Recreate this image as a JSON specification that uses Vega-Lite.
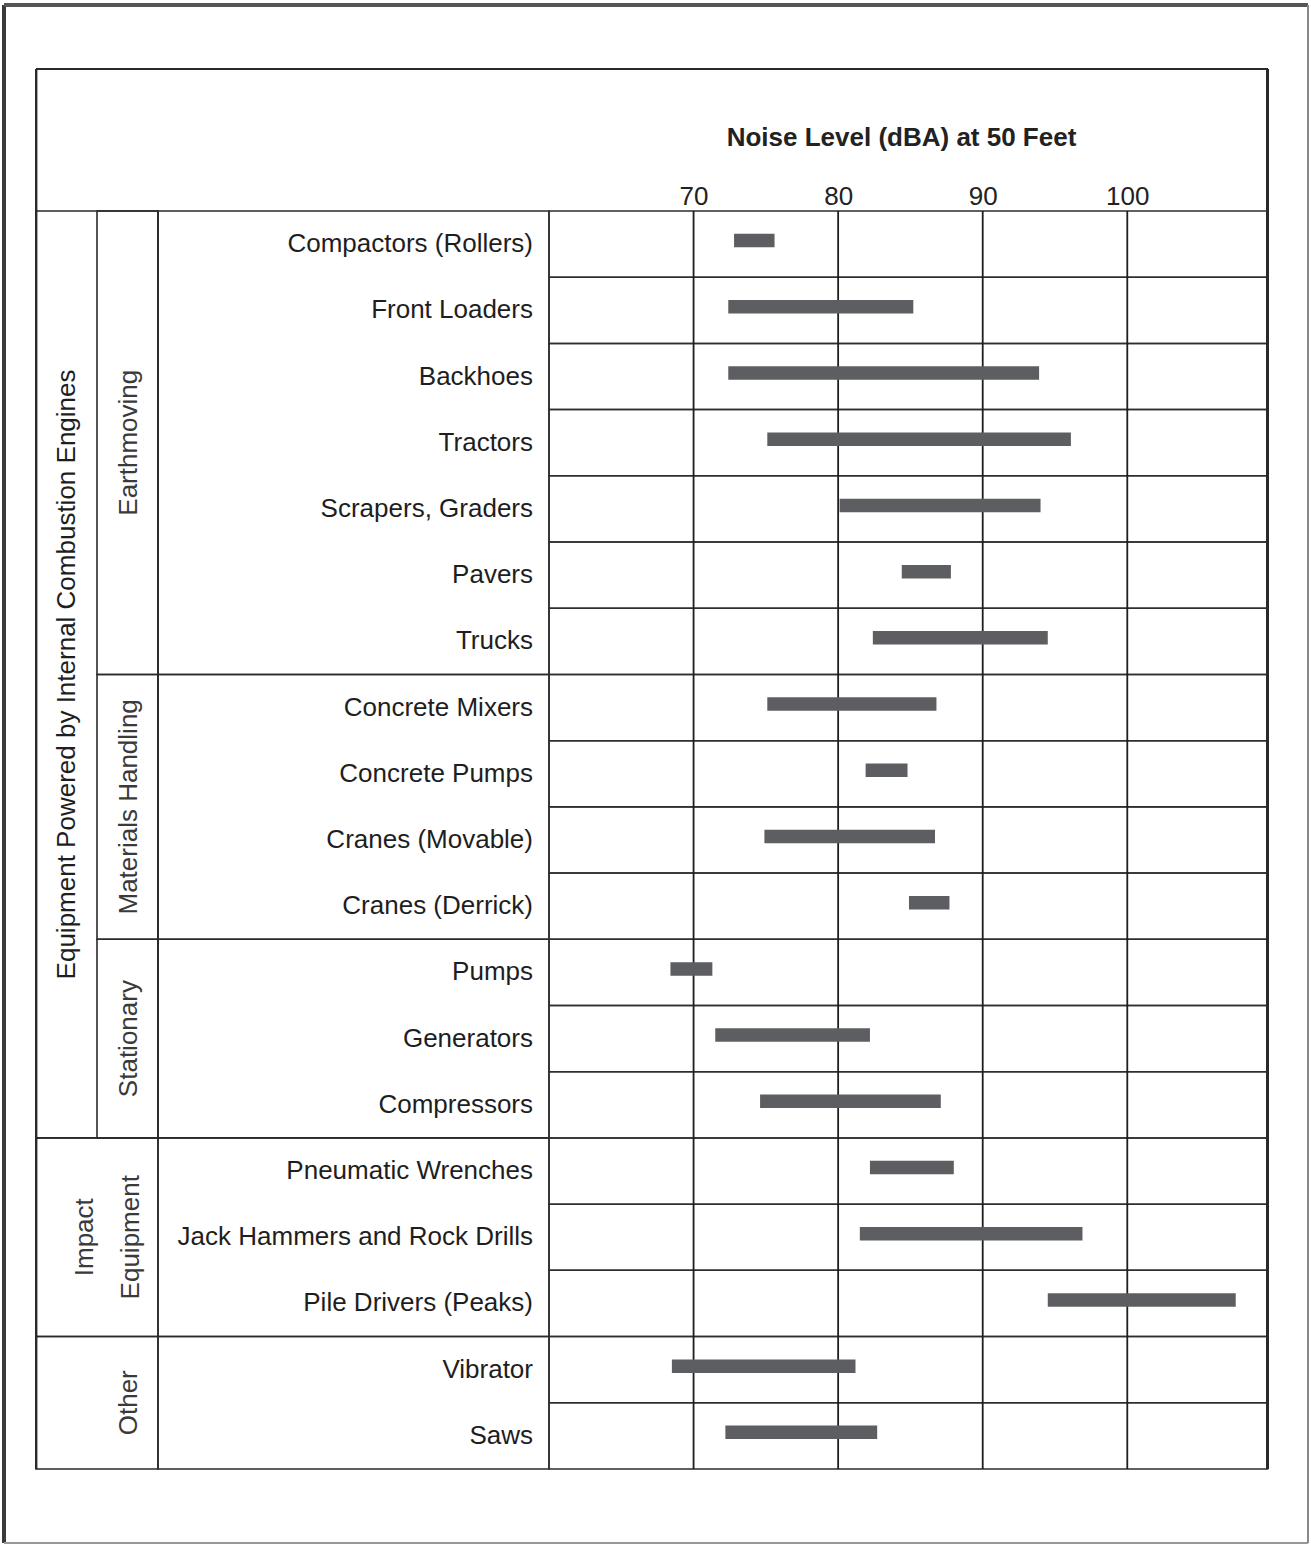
{
  "$schema": "https://vega.github.io/schema/vega-lite/v6.json",
  "padding": {"left": 2, "top": 3, "right": 3, "bottom": 3},
  "background": "white",
  "spacing": 0,
  "bounds": "flush",
  "config": {"view": {"stroke": null}, "font": "Liberation Sans"},
  "datasets": {
    "items": [
      {"row": 0, "name": "Compactors (Rollers)", "group": "Earthmoving", "family": "Equipment Powered by Internal Combustion Engines", "lo": 72.8, "hi": 75.6},
      {"row": 1, "name": "Front Loaders", "group": "Earthmoving", "family": "Equipment Powered by Internal Combustion Engines", "lo": 72.4, "hi": 85.2},
      {"row": 2, "name": "Backhoes", "group": "Earthmoving", "family": "Equipment Powered by Internal Combustion Engines", "lo": 72.4, "hi": 93.9},
      {"row": 3, "name": "Tractors", "group": "Earthmoving", "family": "Equipment Powered by Internal Combustion Engines", "lo": 75.1, "hi": 96.1},
      {"row": 4, "name": "Scrapers, Graders", "group": "Earthmoving", "family": "Equipment Powered by Internal Combustion Engines", "lo": 80.1, "hi": 94.0},
      {"row": 5, "name": "Pavers", "group": "Earthmoving", "family": "Equipment Powered by Internal Combustion Engines", "lo": 84.4, "hi": 87.8},
      {"row": 6, "name": "Trucks", "group": "Earthmoving", "family": "Equipment Powered by Internal Combustion Engines", "lo": 82.4, "hi": 94.5},
      {"row": 7, "name": "Concrete Mixers", "group": "Materials Handling", "family": "Equipment Powered by Internal Combustion Engines", "lo": 75.1, "hi": 86.8},
      {"row": 8, "name": "Concrete Pumps", "group": "Materials Handling", "family": "Equipment Powered by Internal Combustion Engines", "lo": 81.9, "hi": 84.8},
      {"row": 9, "name": "Cranes (Movable)", "group": "Materials Handling", "family": "Equipment Powered by Internal Combustion Engines", "lo": 74.9, "hi": 86.7},
      {"row": 10, "name": "Cranes (Derrick)", "group": "Materials Handling", "family": "Equipment Powered by Internal Combustion Engines", "lo": 84.9, "hi": 87.7},
      {"row": 11, "name": "Pumps", "group": "Stationary", "family": "Equipment Powered by Internal Combustion Engines", "lo": 68.4, "hi": 71.3},
      {"row": 12, "name": "Generators", "group": "Stationary", "family": "Equipment Powered by Internal Combustion Engines", "lo": 71.5, "hi": 82.2},
      {"row": 13, "name": "Compressors", "group": "Stationary", "family": "Equipment Powered by Internal Combustion Engines", "lo": 74.6, "hi": 87.1},
      {"row": 14, "name": "Pneumatic Wrenches", "group": "Impact Equipment", "family": "Impact Equipment", "lo": 82.2, "hi": 88.0},
      {"row": 15, "name": "Jack Hammers and Rock Drills", "group": "Impact Equipment", "family": "Impact Equipment", "lo": 81.5, "hi": 96.9},
      {"row": 16, "name": "Pile Drivers (Peaks)", "group": "Impact Equipment", "family": "Impact Equipment", "lo": 94.5, "hi": 107.5},
      {"row": 17, "name": "Vibrator", "group": "Other", "family": "Other", "lo": 68.5, "hi": 81.2},
      {"row": 18, "name": "Saws", "group": "Other", "family": "Other", "lo": 72.2, "hi": 82.7}
    ],
    "ticks": [{"v": 70}, {"v": 80}, {"v": 90}, {"v": 100}]
  },
  "hconcat": [
    {
      "width": 154,
      "height": 1538,
      "data": {"name": "items"},
      "layer": [
        {
          "transform": [{"aggregate": [{"op": "min", "field": "row", "as": "r0"}, {"op": "max", "field": "row", "as": "r1"}], "groupby": ["family"]}],
          "mark": {"type": "rect", "filled": false, "color": "#2a2a2a", "strokeWidth": 1.6, "yOffset": -33.1, "y2Offset": 33.1},
          "encoding": {
            "x": {"datum": 0, "type": "quantitative", "scale": {"domain": [-0.525, 2], "nice": false, "zero": false}, "axis": null},
            "x2": {"datum": 2},
            "y": {"field": "r0", "type": "quantitative", "scale": {"domain": [-3.611, 19.618], "reverse": true, "nice": false, "zero": false}, "axis": null},
            "y2": {"field": "r1"}
          }
        },
        {
          "transform": [
            {"filter": "datum.family === 'Equipment Powered by Internal Combustion Engines'"},
            {"aggregate": [{"op": "min", "field": "row", "as": "r0"}, {"op": "max", "field": "row", "as": "r1"}], "groupby": ["group"]}
          ],
          "mark": {"type": "rect", "filled": false, "color": "#2a2a2a", "strokeWidth": 1.6, "yOffset": -33.1, "y2Offset": 33.1},
          "encoding": {
            "x": {"datum": 1, "type": "quantitative", "scale": {"domain": [-0.525, 2], "nice": false, "zero": false}, "axis": null},
            "x2": {"datum": 2},
            "y": {"field": "r0", "type": "quantitative", "scale": {"domain": [-3.611, 19.618], "reverse": true, "nice": false, "zero": false}, "axis": null},
            "y2": {"field": "r1"}
          }
        },
        {
          "transform": [
            {"filter": "datum.family === 'Equipment Powered by Internal Combustion Engines'"},
            {"aggregate": [{"op": "mean", "field": "row", "as": "mid"}], "groupby": ["family"]}
          ],
          "mark": {"type": "text", "angle": 270, "align": "center", "baseline": "middle", "fontSize": 26, "color": "#1e1e1e"},
          "encoding": {
            "x": {"datum": 0.5, "type": "quantitative", "scale": {"domain": [-0.525, 2], "nice": false, "zero": false}, "axis": null},
            "y": {"field": "mid", "type": "quantitative", "scale": {"domain": [-3.611, 19.618], "reverse": true, "nice": false, "zero": false}, "axis": null},
            "text": {"field": "family"}
          }
        },
        {
          "transform": [
            {"filter": "datum.family === 'Equipment Powered by Internal Combustion Engines'"},
            {"aggregate": [{"op": "mean", "field": "row", "as": "mid"}], "groupby": ["group"]}
          ],
          "mark": {"type": "text", "angle": 270, "align": "center", "baseline": "middle", "fontSize": 26, "color": "#3a3a3a"},
          "encoding": {
            "x": {"datum": 1.52, "type": "quantitative", "scale": {"domain": [-0.525, 2], "nice": false, "zero": false}, "axis": null},
            "y": {"field": "mid", "type": "quantitative", "scale": {"domain": [-3.611, 19.618], "reverse": true, "nice": false, "zero": false}, "axis": null},
            "text": {"field": "group"}
          }
        },
        {
          "transform": [
            {"filter": "datum.family === 'Impact Equipment'"},
            {"aggregate": [{"op": "mean", "field": "row", "as": "mid"}], "groupby": ["family"]}
          ],
          "mark": {"type": "text", "angle": 270, "align": "center", "baseline": "middle", "fontSize": 26, "lineBreak": " ", "lineHeight": 46, "color": "#3a3a3a"},
          "encoding": {
            "x": {"datum": 0.8, "type": "quantitative", "scale": {"domain": [-0.525, 2], "nice": false, "zero": false}, "axis": null},
            "y": {"field": "mid", "type": "quantitative", "scale": {"domain": [-3.611, 19.618], "reverse": true, "nice": false, "zero": false}, "axis": null},
            "text": {"field": "family"}
          }
        },
        {
          "transform": [
            {"filter": "datum.family === 'Other'"},
            {"aggregate": [{"op": "mean", "field": "row", "as": "mid"}], "groupby": ["family"]}
          ],
          "mark": {"type": "text", "angle": 270, "align": "center", "baseline": "middle", "fontSize": 26, "color": "#3a3a3a"},
          "encoding": {
            "x": {"datum": 1.52, "type": "quantitative", "scale": {"domain": [-0.525, 2], "nice": false, "zero": false}, "axis": null},
            "y": {"field": "mid", "type": "quantitative", "scale": {"domain": [-3.611, 19.618], "reverse": true, "nice": false, "zero": false}, "axis": null},
            "text": {"field": "family"}
          }
        },
        {
          "mark": {"type": "rule", "color": "#2a2a2a", "strokeWidth": 2},
          "encoding": {
            "x": {"datum": 0, "type": "quantitative", "scale": {"domain": [-0.525, 2], "nice": false, "zero": false}, "axis": null},
            "y": {"datum": -2.645, "type": "quantitative", "scale": {"domain": [-3.611, 19.618], "reverse": true, "nice": false, "zero": false}, "axis": null},
            "y2": {"datum": 18.5}
          }
        },
        {
          "mark": {"type": "rule", "color": "#2a2a2a", "strokeWidth": 2},
          "encoding": {
            "x": {"datum": 0, "type": "quantitative", "scale": {"domain": [-0.525, 2], "nice": false, "zero": false}, "axis": null},
            "x2": {"datum": 2},
            "y": {"datum": -2.645, "type": "quantitative", "scale": {"domain": [-3.611, 19.618], "reverse": true, "nice": false, "zero": false}, "axis": null}
          }
        },
        {
          "mark": {"type": "rule", "color": "#3a3a3a", "strokeWidth": 3},
          "encoding": {"x": {"datum": -0.525, "type": "quantitative", "scale": {"domain": [-0.525, 2], "nice": false, "zero": false}, "axis": null}}
        },
        {
          "mark": {"type": "rule", "color": "#555555", "strokeWidth": 2.5},
          "encoding": {"y": {"datum": -3.611, "type": "quantitative", "scale": {"domain": [-3.611, 19.618], "reverse": true, "nice": false, "zero": false}, "axis": null}}
        },
        {
          "mark": {"type": "rule", "color": "#999999", "strokeWidth": 1.5},
          "encoding": {"y": {"datum": 19.618, "type": "quantitative", "scale": {"domain": [-3.611, 19.618], "reverse": true, "nice": false, "zero": false}, "axis": null}}
        }
      ]
    },
    {
      "width": 391,
      "height": 1538,
      "data": {"name": "items"},
      "layer": [
        {
          "transform": [{"aggregate": [{"op": "min", "field": "row", "as": "r0"}, {"op": "max", "field": "row", "as": "r1"}], "groupby": ["group"]}],
          "mark": {"type": "rect", "filled": false, "color": "#2a2a2a", "strokeWidth": 1.6, "yOffset": -33.1, "y2Offset": 33.1},
          "encoding": {
            "x": {"datum": 0, "type": "quantitative", "scale": {"domain": [0, 1], "nice": false, "zero": false}, "axis": null},
            "x2": {"datum": 1},
            "y": {"field": "r0", "type": "quantitative", "scale": {"domain": [-3.611, 19.618], "reverse": true, "nice": false, "zero": false}, "axis": null},
            "y2": {"field": "r1"}
          }
        },
        {
          "mark": {"type": "text", "align": "right", "baseline": "middle", "dx": -16, "fontSize": 26, "color": "#1e1e1e"},
          "encoding": {
            "x": {"datum": 1, "type": "quantitative", "scale": {"domain": [0, 1], "nice": false, "zero": false}, "axis": null},
            "y": {"field": "row", "type": "quantitative", "scale": {"domain": [-3.611, 19.618], "reverse": true, "nice": false, "zero": false}, "axis": null},
            "text": {"field": "name"}
          }
        },
        {
          "mark": {"type": "rule", "color": "#2a2a2a", "strokeWidth": 2},
          "encoding": {"y": {"datum": -2.645, "type": "quantitative", "scale": {"domain": [-3.611, 19.618], "reverse": true, "nice": false, "zero": false}, "axis": null}}
        },
        {
          "mark": {"type": "rule", "color": "#555555", "strokeWidth": 2.5},
          "encoding": {"y": {"datum": -3.611, "type": "quantitative", "scale": {"domain": [-3.611, 19.618], "reverse": true, "nice": false, "zero": false}, "axis": null}}
        },
        {
          "mark": {"type": "rule", "color": "#999999", "strokeWidth": 1.5},
          "encoding": {"y": {"datum": 19.618, "type": "quantitative", "scale": {"domain": [-3.611, 19.618], "reverse": true, "nice": false, "zero": false}, "axis": null}}
        }
      ]
    },
    {
      "width": 759,
      "height": 1538,
      "data": {"name": "items"},
      "layer": [
        {
          "mark": {"type": "rect", "filled": false, "color": "#2e2e2e", "strokeWidth": 1.5, "yOffset": -33.1, "y2Offset": 33.1},
          "encoding": {
            "x": {"datum": 60, "type": "quantitative", "scale": {"domain": [60, 112.5], "nice": false, "zero": false}},
            "x2": {"datum": 109.7},
            "y": {"field": "row", "type": "quantitative", "scale": {"domain": [-3.611, 19.618], "reverse": true, "nice": false, "zero": false}, "axis": null},
            "y2": {"field": "row"}
          }
        },
        {
          "data": {"name": "ticks"},
          "mark": {"type": "rule", "color": "#1e1e1e", "strokeWidth": 1.8},
          "encoding": {
            "x": {"field": "v", "type": "quantitative", "scale": {"domain": [60, 112.5], "nice": false, "zero": false}},
            "y": {"datum": -0.5, "type": "quantitative", "scale": {"domain": [-3.611, 19.618], "reverse": true, "nice": false, "zero": false}, "axis": null},
            "y2": {"datum": 18.5}
          }
        },
        {
          "mark": {"type": "rule", "color": "#5c5e62", "strokeWidth": 13.5, "yOffset": -3.5},
          "encoding": {
            "x": {
              "field": "lo",
              "type": "quantitative",
              "scale": {"domain": [60, 112.5], "nice": false, "zero": false},
              "axis": {
                "orient": "top",
                "offset": -206,
                "values": [70, 80, 90, 100],
                "grid": false,
                "domain": false,
                "ticks": false,
                "labelFontSize": 26,
                "labelColor": "#222222",
                "labelPadding": 2,
                "title": "Noise Level (dBA) at 50 Feet",
                "titleFontSize": 26,
                "titleFontWeight": "bold",
                "titleColor": "#222222",
                "titleX": 352,
                "titleY": -66,
                "titleAlign": "center",
                "titleBaseline": "alphabetic"
              }
            },
            "x2": {"field": "hi"},
            "y": {"field": "row", "type": "quantitative", "scale": {"domain": [-3.611, 19.618], "reverse": true, "nice": false, "zero": false}, "axis": null}
          }
        },
        {
          "mark": {"type": "rule", "color": "#2a2a2a", "strokeWidth": 2},
          "encoding": {
            "x": {"datum": 60, "type": "quantitative", "scale": {"domain": [60, 112.5], "nice": false, "zero": false}},
            "x2": {"datum": 109.7},
            "y": {"datum": -2.645, "type": "quantitative", "scale": {"domain": [-3.611, 19.618], "reverse": true, "nice": false, "zero": false}, "axis": null}
          }
        },
        {
          "mark": {"type": "rule", "color": "#2a2a2a", "strokeWidth": 2},
          "encoding": {
            "x": {"datum": 109.7, "type": "quantitative", "scale": {"domain": [60, 112.5], "nice": false, "zero": false}},
            "y": {"datum": -2.645, "type": "quantitative", "scale": {"domain": [-3.611, 19.618], "reverse": true, "nice": false, "zero": false}, "axis": null},
            "y2": {"datum": 18.5}
          }
        },
        {
          "mark": {"type": "rule", "color": "#555555", "strokeWidth": 2.5},
          "encoding": {"y": {"datum": -3.611, "type": "quantitative", "scale": {"domain": [-3.611, 19.618], "reverse": true, "nice": false, "zero": false}, "axis": null}}
        },
        {
          "mark": {"type": "rule", "color": "#999999", "strokeWidth": 1.5},
          "encoding": {"y": {"datum": 19.618, "type": "quantitative", "scale": {"domain": [-3.611, 19.618], "reverse": true, "nice": false, "zero": false}, "axis": null}}
        },
        {
          "mark": {"type": "rule", "color": "#888888", "strokeWidth": 1.5},
          "encoding": {"x": {"datum": 112.5, "type": "quantitative", "scale": {"domain": [60, 112.5], "nice": false, "zero": false}}}
        }
      ]
    }
  ]
}
